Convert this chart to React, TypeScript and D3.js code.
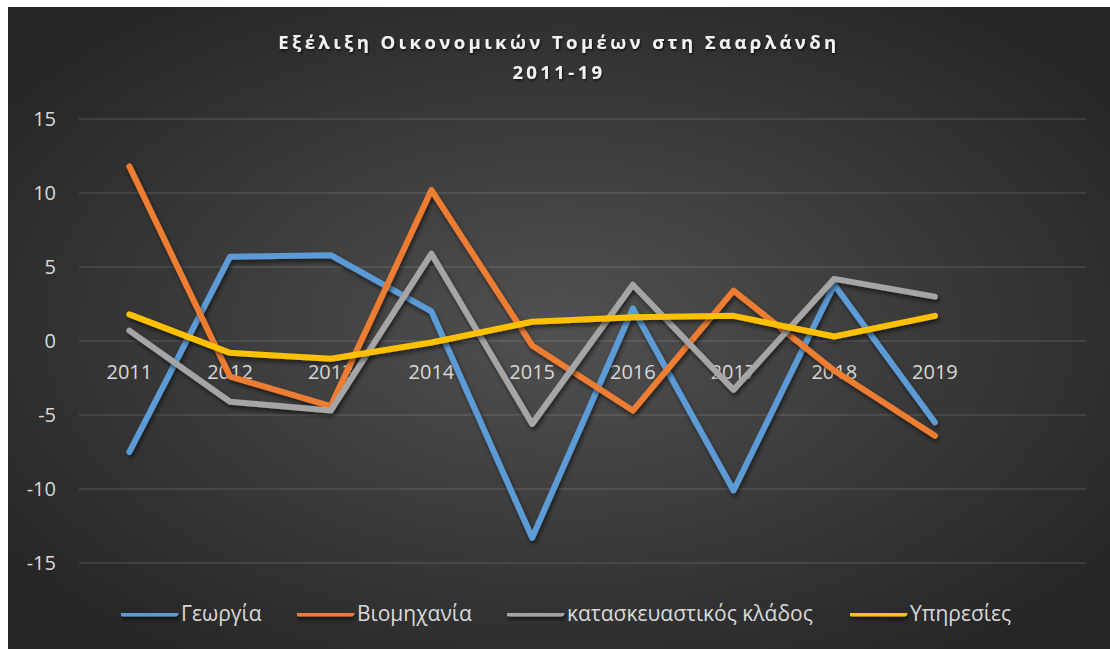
import React from "react";
import * as d3 from "d3";

const categories = ["2011", "2012", "2013", "2014", "2015", "2016", "2017", "2018", "2019", ""];
const georgia = [-7.5, 5.7, 5.8, 2.0, -13.3, 2.2, -10.1, 3.8, -5.5];
const viomixania = [11.8, -2.4, -4.4, 10.2, -0.3, -4.7, 3.4, -2.0, -6.4];
const kataskeues = [0.7, -4.1, -4.7, 5.9, -5.6, 3.8, -3.3, 4.2, 3.0];
const ypiresies = [1.8, -0.8, -1.2, -0.1, 1.3, 1.6, 1.7, 0.3, 1.7];
const yTicks = [-15, -10, -5, 0, 5, 10, 15];
const seriesNames = ["Γεωργία", "Βιομηχανία", "κατασκευαστικός κλάδος", "Υπηρεσίες"];
const seriesColors = ["#5B9BD5", "#ED7D31", "#A5A5A5", "#FFC000"];
const seriesData = [georgia, viomixania, kataskeues, ypiresies];
const legendX = [113, 289, 499, 842];

const W = 1102;
const H = 642;

export default function App() {
  const x = d3.scaleBand<string>().domain(categories).range([71, 1078]).padding(0);
  const y = d3.scaleLinear().domain([-15, 15]).range([556, 112]);
  const line = d3
    .line<number>()
    .x((_, i) => (x(categories[i]) as number) + x.bandwidth() / 2)
    .y((d) => y(d));

  const labelFont = "'Open Sans', 'DejaVu Sans', sans-serif";

  return (
    <div style={{ position: "absolute", left: 8, top: 7, width: W, height: H }}>
      <svg width={W} height={H} style={{ display: "block" }}>
        <defs>
          <radialGradient id="bg" cx="50%" cy="50%" r="62%">
            <stop offset="0%" stopColor="#515151" />
            <stop offset="100%" stopColor="#262626" />
          </radialGradient>
          <filter id="shadow" filterUnits="userSpaceOnUse" x={0} y={0} width={W} height={H}>
            <feDropShadow dx="1.5" dy="3" stdDeviation="2" floodColor="#000" floodOpacity="0.55" />
          </filter>
          <filter id="tshadow" filterUnits="userSpaceOnUse" x={0} y={0} width={W} height={H}>
            <feDropShadow dx="1" dy="1.5" stdDeviation="1.2" floodColor="#000" floodOpacity="0.7" />
          </filter>
        </defs>
        <rect x={0} y={0} width={W} height={H} fill="url(#bg)" />

        {/* title */}
        <g filter="url(#tshadow)" fill="#f2f2f2" fontFamily={labelFont} fontWeight="bold" fontSize={18.5} textAnchor="middle" letterSpacing={3.4}>
          <text x={W / 2} y={42}>Εξέλιξη Οικονομικών Τομέων στη Σααρλάνδη</text>
          <text x={W / 2} y={72}>2011-19</text>
        </g>

        {/* gridlines */}
        {yTicks.map((t) => (
          <line key={t} x1={71} x2={1078} y1={y(t)} y2={y(t)} stroke="#ffffff" strokeOpacity={0.13} strokeWidth={1.5} />
        ))}

        {/* y labels */}
        {yTicks.map((t) => (
          <text key={"yl" + t} x={48} y={y(t)} dy="0.36em" textAnchor="end" fill="#d9d9d9" fontSize={20} fontFamily={labelFont}>
            {t}
          </text>
        ))}

        {/* x labels */}
        {categories.map((c) => (
          <text
            key={"xl" + c}
            x={(x(c) as number) + x.bandwidth() / 2}
            y={y(0) + 31}
            dy="0.36em"
            textAnchor="middle"
            fill="#d9d9d9"
            fontSize={20}
            fontFamily={labelFont}
          >
            {c}
          </text>
        ))}

        {/* series */}
        {seriesData.map((s, i) => (
          <path
            key={seriesNames[i]}
            d={line(s) as string}
            fill="none"
            stroke={seriesColors[i]}
            strokeWidth={6}
            strokeLinecap="round"
            strokeLinejoin="round"
            filter="url(#shadow)"
          />
        ))}

        {/* legend */}
        {seriesNames.map((n, i) => (
          <g key={"lg" + n} transform={`translate(${legendX[i]},606)`}>
            <line x1={2} x2={54} y1={0} y2={0} stroke={seriesColors[i]} strokeWidth={7} strokeLinecap="round" filter="url(#shadow)" />
            <text x={60} y={0} dy="0.36em" fill="#d9d9d9" fontSize={21} fontFamily={labelFont}>
              {n}
            </text>
          </g>
        ))}
      </svg>
    </div>
  );
}
